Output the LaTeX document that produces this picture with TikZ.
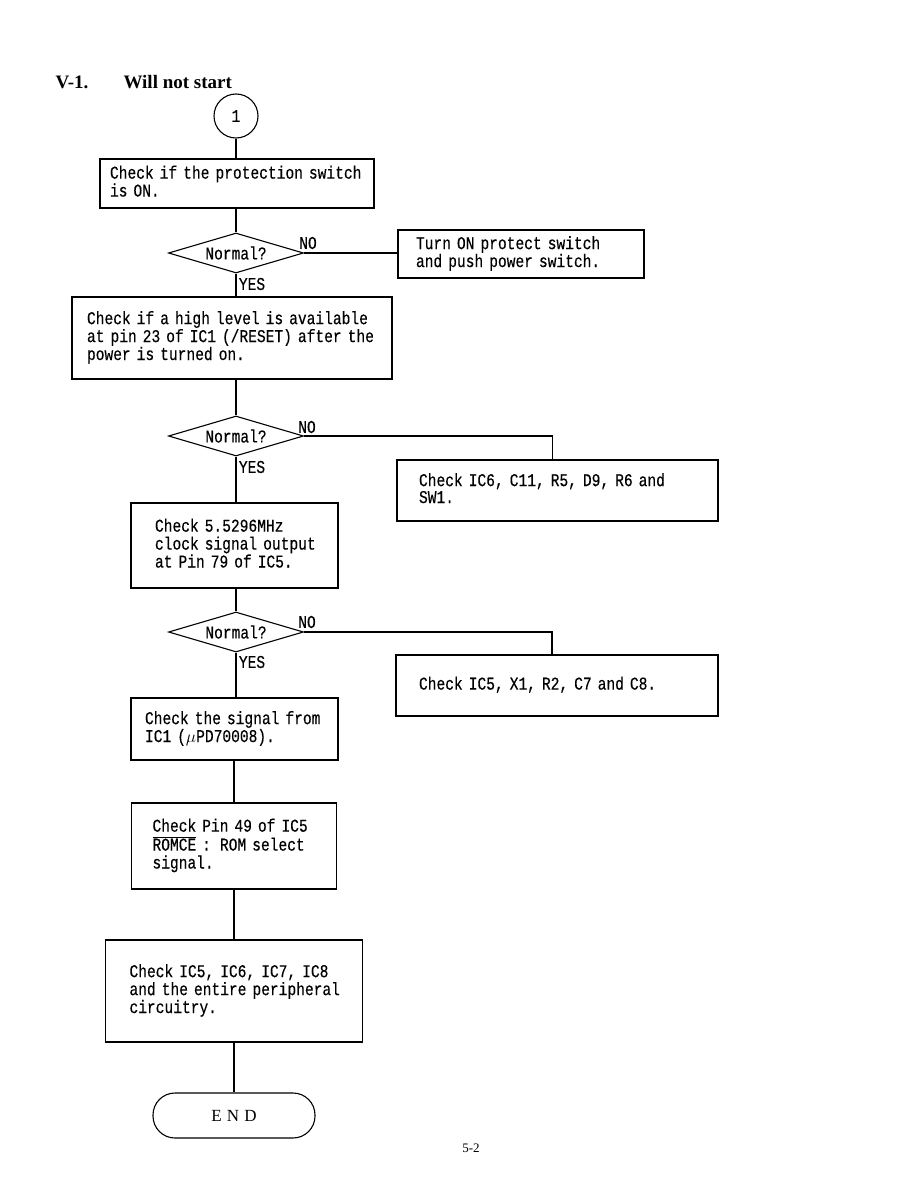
\documentclass[tikz,border=0pt]{standalone}
\usepackage{fontspec}
\setmainfont{Liberation Serif}
\newfontfamily\monof[FakeStretch=0.81,FakeBold=0.3]{Liberation Mono}
\newcommand\boxfont{\monof\fontsize{18}{16.3}\selectfont\fontdimen2\font=8.6pt\fontdimen3\font=0pt\fontdimen4\font=0pt\relax}
\newcommand\tl[1]{\begin{tabular}{@{}l@{}}#1\end{tabular}}
\usetikzlibrary{shapes.geometric}
\begin{document}
\begin{tikzpicture}[x=1pt,y=-1pt,
  every path/.style={line width=1.1pt},
  box/.style={draw, line width=1.1pt, font=\boxfont, align=left, inner ysep=0pt},
  decision/.style={draw, diamond, line width=1.1pt, inner sep=0pt, minimum width=135pt, minimum height=40pt, aspect=3.375, font=\boxfont},
  lbl/.style={font=\boxfont, inner sep=0pt},
  conn/.style={line width=1.1pt}]
\useasboundingbox[fill=white] (0,0) rectangle (918,1188);
% title
\node[anchor=base west, font=\bfseries\fontsize{19}{21}\selectfont, inner sep=0pt] (t1) at (55,89) {V-1.};
\node[anchor=base west, font=\bfseries\fontsize{19}{21}\selectfont, inner sep=0pt] (t2) at (123,89) {Will not start};
% nodes
\node[draw, circle, minimum size=44pt, inner sep=0pt, line width=1.1pt, font=\boxfont] (c1) at (236,116) {1};
\node[box, minimum width=274pt, minimum height=49pt, text width=254pt, inner xsep=10pt] (b1) at (237,183.5) {\tl{Check if the protection switch\\is ON.}};
\node[decision] (d1) at (236,253) {Normal?};
\node[box, minimum width=246pt, minimum height=48pt, text width=210pt, inner xsep=18pt] (b2) at (521,254) {\tl{Turn ON protect switch\\and push power switch.}};
\node[box, minimum width=320pt, minimum height=82pt, text width=290pt, inner xsep=15pt] (b3) at (232,338) {\tl{Check if a high level is available\\at pin 23 of IC1 (/RESET) after the\\power is turned on.}};
\node[decision] (d2) at (236,436) {Normal?};
\node[box, minimum width=321pt, minimum height=61pt, text width=277pt, inner xsep=22pt] (b4) at (557.5,490.5) {\tl{Check IC6, C11, R5, D9, R6 and\\SW1.}};
\node[box, minimum width=207pt, minimum height=85pt, text width=159pt, inner xsep=24pt] (b5) at (234.5,545.5) {\tl{Check 5.5296MHz\\clock signal output\\at Pin 79 of IC5.}};
\node[decision] (d3) at (236,632) {Normal?};
\node[box, minimum width=322pt, minimum height=61pt, text width=276pt, inner xsep=23pt] (b6) at (557,685.5) {\tl{Check IC5, X1, R2, C7 and C8.}};
\node[box, minimum width=207pt, minimum height=62pt, text width=179pt, inner xsep=14pt] (b7) at (234.5,729) {\tl{Check the signal from\\IC1 ($\mu$PD70008).}};
\node[box, minimum width=205pt, minimum height=86pt, text width=163pt, inner xsep=21pt] (b8) at (234,846) {\tl{Check Pin 49 of IC5\\$\overline{\hbox{ROMCE}}$ : ROM select\\signal.}};
\node[box, minimum width=257pt, minimum height=102pt, text width=209pt, inner xsep=24pt] (b9) at (234,991) {\tl{Check IC5, IC6, IC7, IC8\\and the entire peripheral\\circuitry.}};
\node[draw, line width=1.1pt, rounded corners=22pt, minimum width=162pt, minimum height=45pt, inner sep=0pt, font=\fontsize{17}{18}\selectfont] (end) at (234,1115.5) {E\hspace{0.3em}N\hspace{0.3em}D};
% labels
\node[lbl] (no1) at (308,243) {NO};
\node[lbl] (yes1) at (252,284) {YES};
\node[lbl] (no2) at (307,427) {NO};
\node[lbl] (yes2) at (252,467) {YES};
\node[lbl] (no3) at (307,622) {NO};
\node[lbl] (yes3) at (252,662) {YES};
\node[font=\fontsize{13}{15}\selectfont, inner sep=0pt] (pg) at (471,1148) {5-2};
% connectors
\draw[conn] (c1.south) -- (c1.south |- b1.north);
\draw[conn] (b1.south -| d1.north) -- (d1.north);
\draw[conn] (d1.east) -- (d1.east -| b2.west);
\draw[conn] (d1.south) -- (d1.south |- b3.north);
\draw[conn] (b3.south -| d2.north) -- (d2.north);
\draw[conn] (d2.east) -| ([xshift=-5pt]b4.north);
\draw[conn] (d2.south) -- (d2.south |- b5.north);
\draw[conn] (b5.south -| d3.north) -- (d3.north);
\draw[conn] (d3.east) -| ([xshift=-5pt]b6.north);
\draw[conn] (d3.south) -- (d3.south |- b7.north);
\draw[conn] (b8.north |- b7.south) -- (b8.north);
\draw[conn] (b8.south) -- (b8.south |- b9.north);
\draw[conn] (b9.south) -- (b9.south |- end.north);
\end{tikzpicture}
\end{document}
